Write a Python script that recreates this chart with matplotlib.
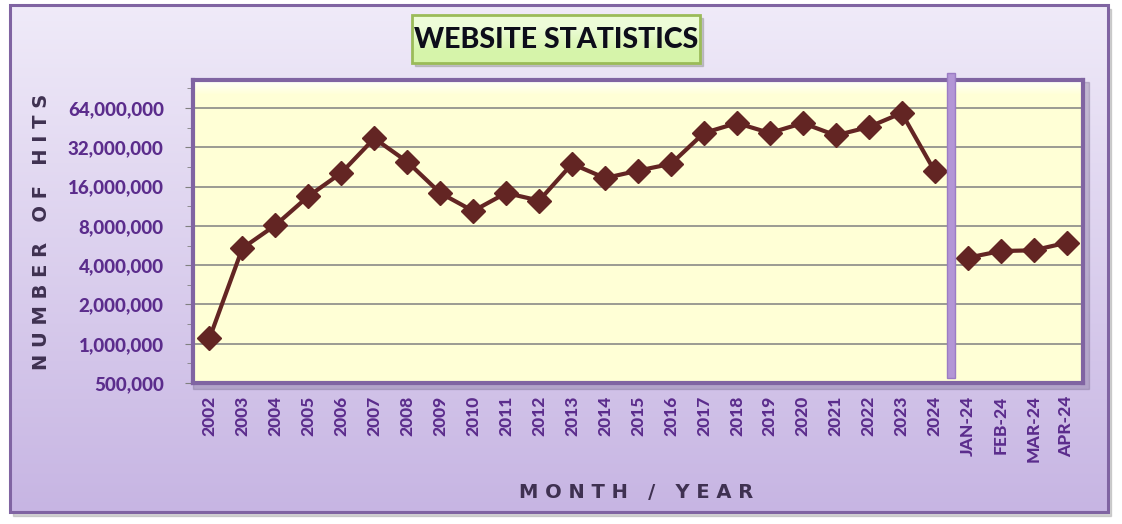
import numpy as np
import matplotlib.pyplot as plt
from matplotlib.patches import Rectangle
from matplotlib.ticker import FixedLocator, FuncFormatter, NullFormatter
import matplotlib.transforms as mtransforms

years = [str(y) for y in range(2002, 2025)]
months = ["JAN-24", "FEB-24", "MAR-24", "APR-24"]
yearly_hits = [1100000, 5400000, 8100000, 13500000, 20400000, 37500000, 24800000,
               14300000, 10400000, 14300000, 12500000, 23900000, 18600000, 21200000,
               23900000, 41200000, 49100000, 41200000, 49100000, 39500000, 45800000,
               58600000, 21000000]
monthly_hits = [4560000, 5130000, 5200000, 5940000]
y_ticks = [500000, 1000000, 2000000, 4000000, 8000000, 16000000, 32000000, 64000000]

labels = years + months
n = len(labels)
x = np.arange(n)
yearly = np.full(n, np.nan)
yearly[:len(years)] = yearly_hits
monthly = np.full(n, np.nan)
monthly[len(years):] = monthly_hits

W, H = 1122, 524
fig = plt.figure(figsize=(W / 100, H / 100), dpi=100)
fig.patch.set_facecolor("white")

# background frame with lavender gradient
bg = fig.add_axes([0, 0, 1, 1], zorder=-10)
bg.set_xlim(0, W)
bg.set_ylim(H, 0)
bg.axis("off")
grad = np.linspace(0, 1, 256)[:, None]
c_top = np.array([0.94, 0.92, 0.975])
c_bot = np.array([0.78, 0.71, 0.89])
img = c_top + grad[..., None] * (c_bot - c_top)
bg.add_patch(Rectangle((13, 9), 1098, 507, color="#a8a8a8", alpha=0.5))
bg.imshow(np.repeat(img, 2, axis=1), extent=[10, 1108, 512, 5], aspect="auto", zorder=1)
bg.add_patch(Rectangle((10, 5), 1098, 507, fill=False, ec="#8064a2", lw=2.2, zorder=2))

# title box
bg.add_patch(Rectangle((415, 18), 288, 48, color="#9a9a9a", alpha=0.5, zorder=3))
tgrad = np.array([[0.93, 0.99, 0.85], [0.84, 0.96, 0.67]])[:, None, :]
bg.imshow(np.repeat(tgrad, 2, axis=1), extent=[412, 700, 63, 15], aspect="auto",
          interpolation="bilinear", zorder=4)
bg.add_patch(Rectangle((412, 15), 288, 48, fill=False, ec="#9bbb59", lw=2, zorder=5))
bg.text(556, 40, "WEBSITE STATISTICS", ha="center", va="center", fontsize=20.5,
        fontweight="black", family="Lato", color="#0d0d1a", zorder=6)

# plot area shadow
bg.add_patch(Rectangle((193, 82), 896, 307, color="#7a6a90", alpha=0.35, zorder=3))

ax = fig.add_axes([193 / W, 1 - 383 / H, 890 / W, 303 / H])
ax.set_facecolor("#ffffd6")
ax.set_yscale("log", base=2)

# bevel on top of plot area
top_fade = np.zeros((64, 2, 4))
top_fade[..., :3] = 1.0
top_fade[..., 3] = np.linspace(1, 0, 64)[:, None]
ax.imshow(top_fade, extent=[0, 1, 0.95, 1.0], transform=ax.transAxes,
          aspect="auto", zorder=0.5)
ax.set_aspect("auto")
ax.set_xlim(-0.5, n - 0.5)
ax.set_ylim(500000, 105000000)

ax.yaxis.set_major_locator(FixedLocator(y_ticks))
ax.yaxis.set_major_formatter(FuncFormatter(lambda v, p: f"{int(round(v)):,}"))
minor = [v * np.sqrt(2) for v in y_ticks]
ax.yaxis.set_minor_locator(FixedLocator(minor))
ax.yaxis.set_minor_formatter(NullFormatter())
ax.grid(axis="y", which="major", color="#808080", lw=1.1, zorder=1)

ax.set_xticks(x)
ax.set_xticklabels(labels, rotation=90)
ax.tick_params(axis="x", length=0, pad=9)
ax.tick_params(axis="y", which="major", length=6, color="#808080", pad=15)
ax.tick_params(axis="y", which="minor", length=4, color="#808080")
for lab in ax.get_xticklabels() + ax.get_yticklabels():
    lab.set_family("Lato")
    lab.set_fontweight("black")
    lab.set_color("#5b2c8c")
for lab in ax.get_xticklabels():
    lab.set_fontsize(12.5)
for lab in ax.get_yticklabels():
    lab.set_fontsize(13.5)

for s in ax.spines.values():
    s.set_color("#8064a2")
    s.set_linewidth(3)

ax.plot(x, yearly, color="#632523", lw=3, marker="D", ms=12, zorder=4)
ax.plot(x, monthly, color="#632523", lw=3, marker="D", ms=12, zorder=4)

# separator between years and months
trans = mtransforms.blended_transform_factory(ax.transData, ax.transAxes)
sep = len(years) - 0.5
ax.add_patch(Rectangle((sep - 0.13, 0.016), 0.26, 1.007, transform=trans,
                       fc="#b396d6", ec="#9b7cc4", lw=1, clip_on=False, zorder=5))

fig.text(42 / W, 1 - 232 / H, "N U M B E R   O F   H I T S", rotation=90,
         ha="center", va="center", fontsize=14, fontweight="heavy",
         family="DejaVu Sans", color="#3f3151")
fig.text(636 / W, 1 - 493 / H, "M O N T H   /   Y E A R", ha="center",
         va="center", fontsize=14, fontweight="heavy", family="DejaVu Sans",
         color="#3f3151")

fig.savefig("out.png", dpi=100, facecolor=fig.get_facecolor())
